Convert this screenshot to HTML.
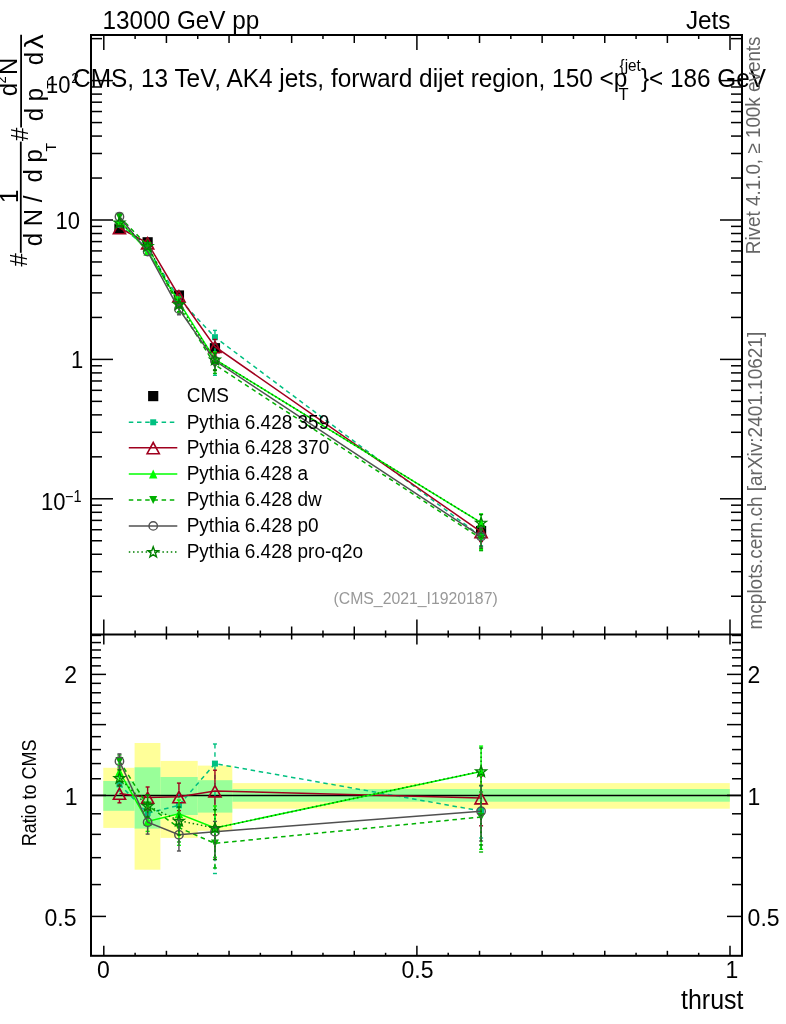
<!DOCTYPE html>
<html><head><meta charset="utf-8"><title>CMS thrust</title>
<style>html,body{margin:0;padding:0;background:#fff;} svg{display:block;will-change:transform;}</style></head>
<body>
<svg width="786" height="1024" viewBox="0 0 786 1024" font-family="Liberation Sans, Arial, Helvetica, sans-serif">
<rect width="786" height="1024" fill="#fff"/>
<rect x="103.3" y="767.8" width="31.30" height="60.10" fill="#ffff99"/>
<rect x="134.6" y="743.0" width="25.80" height="126.70" fill="#ffff99"/>
<rect x="160.4" y="760.9" width="37.30" height="77.00" fill="#ffff99"/>
<rect x="197.7" y="765.6" width="34.60" height="65.20" fill="#ffff99"/>
<rect x="232.3" y="783.1" width="497.50" height="25.60" fill="#ffff99"/>
<rect x="103.3" y="781.0" width="31.30" height="29.80" fill="#99ff99"/>
<rect x="134.6" y="767.3" width="25.80" height="61.30" fill="#99ff99"/>
<rect x="160.4" y="777.0" width="37.30" height="38.00" fill="#99ff99"/>
<rect x="197.7" y="780.2" width="34.60" height="32.40" fill="#99ff99"/>
<rect x="232.3" y="789.0" width="497.50" height="12.70" fill="#99ff99"/>
<line x1="91.0" y1="795.40" x2="742.0" y2="795.40" stroke="#000" stroke-width="1.5"/>
<polyline points="119.45,784.30 147.63,813.20 178.94,805.30 214.95,763.60 481.09,811.00" fill="none" stroke="#00c080" stroke-width="1.5" stroke-dasharray="4.5,3.7"/>
<line x1="119.45" y1="777.00" x2="119.45" y2="781.30" stroke="#00c080" stroke-width="1.4" stroke-dasharray="4.5,3.7"/><line x1="119.45" y1="787.30" x2="119.45" y2="791.00" stroke="#00c080" stroke-width="1.4" stroke-dasharray="4.5,3.7"/><line x1="117.45" y1="777.00" x2="121.45" y2="777.00" stroke="#00c080" stroke-width="1.4"/><line x1="117.45" y1="791.00" x2="121.45" y2="791.00" stroke="#00c080" stroke-width="1.4"/>
<line x1="147.63" y1="804.00" x2="147.63" y2="810.20" stroke="#00c080" stroke-width="1.4" stroke-dasharray="4.5,3.7"/><line x1="147.63" y1="816.20" x2="147.63" y2="822.00" stroke="#00c080" stroke-width="1.4" stroke-dasharray="4.5,3.7"/><line x1="145.63" y1="804.00" x2="149.63" y2="804.00" stroke="#00c080" stroke-width="1.4"/><line x1="145.63" y1="822.00" x2="149.63" y2="822.00" stroke="#00c080" stroke-width="1.4"/>
<line x1="178.94" y1="794.00" x2="178.94" y2="802.30" stroke="#00c080" stroke-width="1.4" stroke-dasharray="4.5,3.7"/><line x1="178.94" y1="808.30" x2="178.94" y2="817.00" stroke="#00c080" stroke-width="1.4" stroke-dasharray="4.5,3.7"/><line x1="176.94" y1="794.00" x2="180.94" y2="794.00" stroke="#00c080" stroke-width="1.4"/><line x1="176.94" y1="817.00" x2="180.94" y2="817.00" stroke="#00c080" stroke-width="1.4"/>
<line x1="214.95" y1="744.00" x2="214.95" y2="760.60" stroke="#00c080" stroke-width="1.4" stroke-dasharray="4.5,3.7"/><line x1="214.95" y1="766.60" x2="214.95" y2="873.50" stroke="#00c080" stroke-width="1.4" stroke-dasharray="4.5,3.7"/><line x1="212.95" y1="744.00" x2="216.95" y2="744.00" stroke="#00c080" stroke-width="1.4"/><line x1="212.95" y1="873.50" x2="216.95" y2="873.50" stroke="#00c080" stroke-width="1.4"/>
<line x1="481.09" y1="786.00" x2="481.09" y2="808.00" stroke="#00c080" stroke-width="1.4" stroke-dasharray="4.5,3.7"/><line x1="481.09" y1="814.00" x2="481.09" y2="838.00" stroke="#00c080" stroke-width="1.4" stroke-dasharray="4.5,3.7"/><line x1="479.09" y1="786.00" x2="483.09" y2="786.00" stroke="#00c080" stroke-width="1.4"/><line x1="479.09" y1="838.00" x2="483.09" y2="838.00" stroke="#00c080" stroke-width="1.4"/>
<rect x="116.45" y="781.30" width="6.00" height="6.00" fill="#00c080"/>
<rect x="144.63" y="810.20" width="6.00" height="6.00" fill="#00c080"/>
<rect x="175.94" y="802.30" width="6.00" height="6.00" fill="#00c080"/>
<rect x="211.95" y="760.60" width="6.00" height="6.00" fill="#00c080"/>
<rect x="478.09" y="808.00" width="6.00" height="6.00" fill="#00c080"/>
<polyline points="119.45,793.40 147.63,797.40 178.94,796.80 214.95,791.00 481.09,798.00" fill="none" stroke="#a0001e" stroke-width="1.5"/>
<line x1="119.45" y1="785.30" x2="119.45" y2="787.20" stroke="#a0001e" stroke-width="1.4"/><line x1="119.45" y1="799.60" x2="119.45" y2="802.80" stroke="#a0001e" stroke-width="1.4"/><line x1="117.45" y1="785.30" x2="121.45" y2="785.30" stroke="#a0001e" stroke-width="1.4"/><line x1="117.45" y1="802.80" x2="121.45" y2="802.80" stroke="#a0001e" stroke-width="1.4"/>
<line x1="147.63" y1="787.00" x2="147.63" y2="791.20" stroke="#a0001e" stroke-width="1.4"/><line x1="147.63" y1="803.60" x2="147.63" y2="808.00" stroke="#a0001e" stroke-width="1.4"/><line x1="145.63" y1="787.00" x2="149.63" y2="787.00" stroke="#a0001e" stroke-width="1.4"/><line x1="145.63" y1="808.00" x2="149.63" y2="808.00" stroke="#a0001e" stroke-width="1.4"/>
<line x1="178.94" y1="783.10" x2="178.94" y2="790.60" stroke="#a0001e" stroke-width="1.4"/><line x1="178.94" y1="803.00" x2="178.94" y2="810.60" stroke="#a0001e" stroke-width="1.4"/><line x1="176.94" y1="783.10" x2="180.94" y2="783.10" stroke="#a0001e" stroke-width="1.4"/><line x1="176.94" y1="810.60" x2="180.94" y2="810.60" stroke="#a0001e" stroke-width="1.4"/>
<line x1="214.95" y1="770.20" x2="214.95" y2="784.80" stroke="#a0001e" stroke-width="1.4"/><line x1="214.95" y1="797.20" x2="214.95" y2="814.90" stroke="#a0001e" stroke-width="1.4"/><line x1="212.95" y1="770.20" x2="216.95" y2="770.20" stroke="#a0001e" stroke-width="1.4"/><line x1="212.95" y1="814.90" x2="216.95" y2="814.90" stroke="#a0001e" stroke-width="1.4"/>
<line x1="481.09" y1="776.00" x2="481.09" y2="791.80" stroke="#a0001e" stroke-width="1.4"/><line x1="481.09" y1="804.20" x2="481.09" y2="825.80" stroke="#a0001e" stroke-width="1.4"/><line x1="479.09" y1="776.00" x2="483.09" y2="776.00" stroke="#a0001e" stroke-width="1.4"/><line x1="479.09" y1="825.80" x2="483.09" y2="825.80" stroke="#a0001e" stroke-width="1.4"/>
<path d="M119.45,788.10 L125.55,799.30 L113.36,799.30 Z" fill="none" stroke="#a0001e" stroke-width="1.6"/>
<path d="M147.63,792.10 L153.73,803.30 L141.53,803.30 Z" fill="none" stroke="#a0001e" stroke-width="1.6"/>
<path d="M178.94,791.50 L185.04,802.70 L172.84,802.70 Z" fill="none" stroke="#a0001e" stroke-width="1.6"/>
<path d="M214.95,785.70 L221.05,796.90 L208.85,796.90 Z" fill="none" stroke="#a0001e" stroke-width="1.6"/>
<path d="M481.09,792.70 L487.19,803.90 L474.99,803.90 Z" fill="none" stroke="#a0001e" stroke-width="1.6"/>
<polyline points="119.45,771.70 147.63,821.50 178.94,813.70 214.95,827.90 481.09,771.50" fill="none" stroke="#00ff00" stroke-width="1.5"/>
<line x1="119.45" y1="764.00" x2="119.45" y2="767.40" stroke="#00ff00" stroke-width="1.4"/><line x1="119.45" y1="776.00" x2="119.45" y2="780.00" stroke="#00ff00" stroke-width="1.4"/><line x1="117.45" y1="764.00" x2="121.45" y2="764.00" stroke="#00ff00" stroke-width="1.4"/><line x1="117.45" y1="780.00" x2="121.45" y2="780.00" stroke="#00ff00" stroke-width="1.4"/>
<line x1="147.63" y1="811.00" x2="147.63" y2="817.20" stroke="#00ff00" stroke-width="1.4"/><line x1="147.63" y1="825.80" x2="147.63" y2="831.40" stroke="#00ff00" stroke-width="1.4"/><line x1="145.63" y1="811.00" x2="149.63" y2="811.00" stroke="#00ff00" stroke-width="1.4"/><line x1="145.63" y1="831.40" x2="149.63" y2="831.40" stroke="#00ff00" stroke-width="1.4"/>
<line x1="178.94" y1="800.00" x2="178.94" y2="809.40" stroke="#00ff00" stroke-width="1.4"/><line x1="178.94" y1="818.00" x2="178.94" y2="845.30" stroke="#00ff00" stroke-width="1.4"/><line x1="176.94" y1="800.00" x2="180.94" y2="800.00" stroke="#00ff00" stroke-width="1.4"/><line x1="176.94" y1="845.30" x2="180.94" y2="845.30" stroke="#00ff00" stroke-width="1.4"/>
<line x1="214.95" y1="806.00" x2="214.95" y2="823.60" stroke="#00ff00" stroke-width="1.4"/><line x1="214.95" y1="832.20" x2="214.95" y2="857.30" stroke="#00ff00" stroke-width="1.4"/><line x1="212.95" y1="806.00" x2="216.95" y2="806.00" stroke="#00ff00" stroke-width="1.4"/><line x1="212.95" y1="857.30" x2="216.95" y2="857.30" stroke="#00ff00" stroke-width="1.4"/>
<line x1="481.09" y1="746.10" x2="481.09" y2="767.20" stroke="#00ff00" stroke-width="1.4"/><line x1="481.09" y1="775.80" x2="481.09" y2="849.30" stroke="#00ff00" stroke-width="1.4"/><line x1="479.09" y1="746.10" x2="483.09" y2="746.10" stroke="#00ff00" stroke-width="1.4"/><line x1="479.09" y1="849.30" x2="483.09" y2="849.30" stroke="#00ff00" stroke-width="1.4"/>
<path d="M119.45,767.30 L123.66,776.10 L115.25,776.10 Z" fill="#00ff00"/>
<path d="M147.63,817.10 L151.83,825.90 L143.43,825.90 Z" fill="#00ff00"/>
<path d="M178.94,809.30 L183.14,818.10 L174.74,818.10 Z" fill="#00ff00"/>
<path d="M214.95,823.50 L219.15,832.30 L210.75,832.30 Z" fill="#00ff00"/>
<path d="M481.09,767.10 L485.29,775.90 L476.89,775.90 Z" fill="#00ff00"/>
<polyline points="119.45,761.00 147.63,805.50 178.94,827.70 214.95,843.40 481.09,817.00" fill="none" stroke="#00b000" stroke-width="1.5" stroke-dasharray="4.5,3.7"/>
<line x1="119.45" y1="755.00" x2="119.45" y2="757.00" stroke="#00b000" stroke-width="1.4" stroke-dasharray="4.5,3.7"/><line x1="119.45" y1="765.00" x2="119.45" y2="767.00" stroke="#00b000" stroke-width="1.4" stroke-dasharray="4.5,3.7"/><line x1="117.45" y1="755.00" x2="121.45" y2="755.00" stroke="#00b000" stroke-width="1.4"/><line x1="117.45" y1="767.00" x2="121.45" y2="767.00" stroke="#00b000" stroke-width="1.4"/>
<line x1="147.63" y1="795.00" x2="147.63" y2="801.50" stroke="#00b000" stroke-width="1.4" stroke-dasharray="4.5,3.7"/><line x1="147.63" y1="809.50" x2="147.63" y2="817.00" stroke="#00b000" stroke-width="1.4" stroke-dasharray="4.5,3.7"/><line x1="145.63" y1="795.00" x2="149.63" y2="795.00" stroke="#00b000" stroke-width="1.4"/><line x1="145.63" y1="817.00" x2="149.63" y2="817.00" stroke="#00b000" stroke-width="1.4"/>
<line x1="178.94" y1="814.00" x2="178.94" y2="823.70" stroke="#00b000" stroke-width="1.4" stroke-dasharray="4.5,3.7"/><line x1="178.94" y1="831.70" x2="178.94" y2="842.00" stroke="#00b000" stroke-width="1.4" stroke-dasharray="4.5,3.7"/><line x1="176.94" y1="814.00" x2="180.94" y2="814.00" stroke="#00b000" stroke-width="1.4"/><line x1="176.94" y1="842.00" x2="180.94" y2="842.00" stroke="#00b000" stroke-width="1.4"/>
<line x1="214.95" y1="826.00" x2="214.95" y2="839.40" stroke="#00b000" stroke-width="1.4" stroke-dasharray="4.5,3.7"/><line x1="214.95" y1="847.40" x2="214.95" y2="868.00" stroke="#00b000" stroke-width="1.4" stroke-dasharray="4.5,3.7"/><line x1="212.95" y1="826.00" x2="216.95" y2="826.00" stroke="#00b000" stroke-width="1.4"/><line x1="212.95" y1="868.00" x2="216.95" y2="868.00" stroke="#00b000" stroke-width="1.4"/>
<line x1="481.09" y1="792.00" x2="481.09" y2="813.00" stroke="#00b000" stroke-width="1.4" stroke-dasharray="4.5,3.7"/><line x1="481.09" y1="821.00" x2="481.09" y2="852.00" stroke="#00b000" stroke-width="1.4" stroke-dasharray="4.5,3.7"/><line x1="479.09" y1="792.00" x2="483.09" y2="792.00" stroke="#00b000" stroke-width="1.4"/><line x1="479.09" y1="852.00" x2="483.09" y2="852.00" stroke="#00b000" stroke-width="1.4"/>
<path d="M119.45,764.90 L123.45,757.10 L115.45,757.10 Z" fill="#00b000"/>
<path d="M147.63,809.40 L151.63,801.60 L143.63,801.60 Z" fill="#00b000"/>
<path d="M178.94,831.60 L182.94,823.80 L174.94,823.80 Z" fill="#00b000"/>
<path d="M214.95,847.30 L218.95,839.50 L210.95,839.50 Z" fill="#00b000"/>
<path d="M481.09,820.90 L485.09,813.10 L477.09,813.10 Z" fill="#00b000"/>
<polyline points="119.45,761.20 147.63,822.20 178.94,834.80 214.95,831.70 481.09,811.20" fill="none" stroke="#505050" stroke-width="1.5"/>
<line x1="119.45" y1="753.90" x2="119.45" y2="756.60" stroke="#505050" stroke-width="1.4"/><line x1="119.45" y1="765.80" x2="119.45" y2="769.10" stroke="#505050" stroke-width="1.4"/><line x1="117.45" y1="753.90" x2="121.45" y2="753.90" stroke="#505050" stroke-width="1.4"/><line x1="117.45" y1="769.10" x2="121.45" y2="769.10" stroke="#505050" stroke-width="1.4"/>
<line x1="147.63" y1="810.00" x2="147.63" y2="817.60" stroke="#505050" stroke-width="1.4"/><line x1="147.63" y1="826.80" x2="147.63" y2="834.10" stroke="#505050" stroke-width="1.4"/><line x1="145.63" y1="810.00" x2="149.63" y2="810.00" stroke="#505050" stroke-width="1.4"/><line x1="145.63" y1="834.10" x2="149.63" y2="834.10" stroke="#505050" stroke-width="1.4"/>
<line x1="178.94" y1="820.00" x2="178.94" y2="830.20" stroke="#505050" stroke-width="1.4"/><line x1="178.94" y1="839.40" x2="178.94" y2="851.00" stroke="#505050" stroke-width="1.4"/><line x1="176.94" y1="820.00" x2="180.94" y2="820.00" stroke="#505050" stroke-width="1.4"/><line x1="176.94" y1="851.00" x2="180.94" y2="851.00" stroke="#505050" stroke-width="1.4"/>
<line x1="214.95" y1="821.40" x2="214.95" y2="827.10" stroke="#505050" stroke-width="1.4"/><line x1="214.95" y1="836.30" x2="214.95" y2="859.50" stroke="#505050" stroke-width="1.4"/><line x1="212.95" y1="821.40" x2="216.95" y2="821.40" stroke="#505050" stroke-width="1.4"/><line x1="212.95" y1="859.50" x2="216.95" y2="859.50" stroke="#505050" stroke-width="1.4"/>
<line x1="481.09" y1="785.40" x2="481.09" y2="806.60" stroke="#505050" stroke-width="1.4"/><line x1="481.09" y1="815.80" x2="481.09" y2="841.00" stroke="#505050" stroke-width="1.4"/><line x1="479.09" y1="785.40" x2="483.09" y2="785.40" stroke="#505050" stroke-width="1.4"/><line x1="479.09" y1="841.00" x2="483.09" y2="841.00" stroke="#505050" stroke-width="1.4"/>
<circle cx="119.45" cy="761.20" r="4.20" fill="none" stroke="#505050" stroke-width="1.4"/>
<circle cx="147.63" cy="822.20" r="4.20" fill="none" stroke="#505050" stroke-width="1.4"/>
<circle cx="178.94" cy="834.80" r="4.20" fill="none" stroke="#505050" stroke-width="1.4"/>
<circle cx="214.95" cy="831.70" r="4.20" fill="none" stroke="#505050" stroke-width="1.4"/>
<circle cx="481.09" cy="811.20" r="4.20" fill="none" stroke="#505050" stroke-width="1.4"/>
<polyline points="119.45,778.00 147.63,805.80 178.94,820.70 214.95,828.00 481.09,771.30" fill="none" stroke="#008000" stroke-width="1.5" stroke-dasharray="1.5,2.7"/>
<line x1="119.45" y1="770.00" x2="119.45" y2="772.50" stroke="#008000" stroke-width="1.4" stroke-dasharray="1.5,2.7"/><line x1="119.45" y1="783.50" x2="119.45" y2="786.00" stroke="#008000" stroke-width="1.4" stroke-dasharray="1.5,2.7"/><line x1="117.45" y1="770.00" x2="121.45" y2="770.00" stroke="#008000" stroke-width="1.4"/><line x1="117.45" y1="786.00" x2="121.45" y2="786.00" stroke="#008000" stroke-width="1.4"/>
<line x1="147.63" y1="795.00" x2="147.63" y2="800.30" stroke="#008000" stroke-width="1.4" stroke-dasharray="1.5,2.7"/><line x1="147.63" y1="811.30" x2="147.63" y2="817.00" stroke="#008000" stroke-width="1.4" stroke-dasharray="1.5,2.7"/><line x1="145.63" y1="795.00" x2="149.63" y2="795.00" stroke="#008000" stroke-width="1.4"/><line x1="145.63" y1="817.00" x2="149.63" y2="817.00" stroke="#008000" stroke-width="1.4"/>
<line x1="178.94" y1="807.00" x2="178.94" y2="815.20" stroke="#008000" stroke-width="1.4" stroke-dasharray="1.5,2.7"/><line x1="178.94" y1="826.20" x2="178.94" y2="835.00" stroke="#008000" stroke-width="1.4" stroke-dasharray="1.5,2.7"/><line x1="176.94" y1="807.00" x2="180.94" y2="807.00" stroke="#008000" stroke-width="1.4"/><line x1="176.94" y1="835.00" x2="180.94" y2="835.00" stroke="#008000" stroke-width="1.4"/>
<line x1="214.95" y1="809.70" x2="214.95" y2="822.50" stroke="#008000" stroke-width="1.4" stroke-dasharray="1.5,2.7"/><line x1="214.95" y1="833.50" x2="214.95" y2="859.50" stroke="#008000" stroke-width="1.4" stroke-dasharray="1.5,2.7"/><line x1="212.95" y1="809.70" x2="216.95" y2="809.70" stroke="#008000" stroke-width="1.4"/><line x1="212.95" y1="859.50" x2="216.95" y2="859.50" stroke="#008000" stroke-width="1.4"/>
<line x1="481.09" y1="748.00" x2="481.09" y2="765.80" stroke="#008000" stroke-width="1.4" stroke-dasharray="1.5,2.7"/><line x1="481.09" y1="776.80" x2="481.09" y2="845.00" stroke="#008000" stroke-width="1.4" stroke-dasharray="1.5,2.7"/><line x1="479.09" y1="748.00" x2="483.09" y2="748.00" stroke="#008000" stroke-width="1.4"/><line x1="479.09" y1="845.00" x2="483.09" y2="845.00" stroke="#008000" stroke-width="1.4"/>
<polygon points="119.45,772.80 120.81,776.54 124.78,776.67 121.64,779.11 122.75,782.93 119.45,780.70 116.16,782.93 117.27,779.11 114.13,776.67 118.10,776.54" fill="none" stroke="#008000" stroke-width="1.4" stroke-linejoin="miter"/>
<polygon points="147.63,800.60 148.99,804.34 152.96,804.47 149.82,806.91 150.93,810.73 147.63,808.50 144.34,810.73 145.45,806.91 142.31,804.47 146.28,804.34" fill="none" stroke="#008000" stroke-width="1.4" stroke-linejoin="miter"/>
<polygon points="178.94,815.50 180.30,819.24 184.27,819.37 181.13,821.81 182.24,825.63 178.94,823.40 175.65,825.63 176.76,821.81 173.62,819.37 177.59,819.24" fill="none" stroke="#008000" stroke-width="1.4" stroke-linejoin="miter"/>
<polygon points="214.95,822.80 216.30,826.54 220.28,826.67 217.14,829.11 218.24,832.93 214.95,830.70 211.66,832.93 212.76,829.11 209.62,826.67 213.60,826.54" fill="none" stroke="#008000" stroke-width="1.4" stroke-linejoin="miter"/>
<polygon points="481.09,766.10 482.44,769.84 486.41,769.97 483.27,772.41 484.38,776.23 481.09,774.00 477.79,776.23 478.90,772.41 475.76,769.97 479.73,769.84" fill="none" stroke="#008000" stroke-width="1.4" stroke-linejoin="miter"/>
<rect x="114.36" y="223.50" width="10.20" height="10.20" fill="#000"/>
<rect x="142.53" y="237.20" width="10.20" height="10.20" fill="#000"/>
<rect x="173.84" y="290.40" width="10.20" height="10.20" fill="#000"/>
<rect x="209.85" y="343.10" width="10.20" height="10.20" fill="#000"/>
<rect x="475.99" y="525.90" width="10.20" height="10.20" fill="#000"/>
<polyline points="119.45,224.75 147.63,248.47 178.94,298.93 214.95,337.17 481.09,536.41" fill="none" stroke="#00c080" stroke-width="1.5" stroke-dasharray="4.5,3.7"/>
<line x1="147.63" y1="245.28" x2="147.63" y2="245.47" stroke="#00c080" stroke-width="1.4" stroke-dasharray="4.5,3.7"/><line x1="147.63" y1="251.47" x2="147.63" y2="251.52" stroke="#00c080" stroke-width="1.4" stroke-dasharray="4.5,3.7"/><line x1="145.63" y1="245.28" x2="149.63" y2="245.28" stroke="#00c080" stroke-width="1.4"/><line x1="145.63" y1="251.52" x2="149.63" y2="251.52" stroke="#00c080" stroke-width="1.4"/>
<line x1="178.94" y1="295.01" x2="178.94" y2="295.93" stroke="#00c080" stroke-width="1.4" stroke-dasharray="4.5,3.7"/><line x1="178.94" y1="301.93" x2="178.94" y2="302.99" stroke="#00c080" stroke-width="1.4" stroke-dasharray="4.5,3.7"/><line x1="176.94" y1="295.01" x2="180.94" y2="295.01" stroke="#00c080" stroke-width="1.4"/><line x1="176.94" y1="302.99" x2="180.94" y2="302.99" stroke="#00c080" stroke-width="1.4"/>
<line x1="214.95" y1="330.38" x2="214.95" y2="334.17" stroke="#00c080" stroke-width="1.4" stroke-dasharray="4.5,3.7"/><line x1="214.95" y1="340.17" x2="214.95" y2="375.28" stroke="#00c080" stroke-width="1.4" stroke-dasharray="4.5,3.7"/><line x1="212.95" y1="330.38" x2="216.95" y2="330.38" stroke="#00c080" stroke-width="1.4"/><line x1="212.95" y1="375.28" x2="216.95" y2="375.28" stroke="#00c080" stroke-width="1.4"/>
<line x1="481.09" y1="527.74" x2="481.09" y2="533.41" stroke="#00c080" stroke-width="1.4" stroke-dasharray="4.5,3.7"/><line x1="481.09" y1="539.41" x2="481.09" y2="545.77" stroke="#00c080" stroke-width="1.4" stroke-dasharray="4.5,3.7"/><line x1="479.09" y1="527.74" x2="483.09" y2="527.74" stroke="#00c080" stroke-width="1.4"/><line x1="479.09" y1="545.77" x2="483.09" y2="545.77" stroke="#00c080" stroke-width="1.4"/>
<rect x="116.45" y="221.75" width="6.00" height="6.00" fill="#00c080"/>
<rect x="144.63" y="245.47" width="6.00" height="6.00" fill="#00c080"/>
<rect x="175.94" y="295.93" width="6.00" height="6.00" fill="#00c080"/>
<rect x="211.95" y="334.17" width="6.00" height="6.00" fill="#00c080"/>
<rect x="478.09" y="533.41" width="6.00" height="6.00" fill="#00c080"/>
<polyline points="119.45,227.91 147.63,242.99 178.94,295.99 214.95,346.67 481.09,531.90" fill="none" stroke="#a0001e" stroke-width="1.5"/>
<line x1="214.95" y1="339.46" x2="214.95" y2="340.47" stroke="#a0001e" stroke-width="1.4"/><line x1="214.95" y1="352.87" x2="214.95" y2="354.96" stroke="#a0001e" stroke-width="1.4"/><line x1="212.95" y1="339.46" x2="216.95" y2="339.46" stroke="#a0001e" stroke-width="1.4"/><line x1="212.95" y1="354.96" x2="216.95" y2="354.96" stroke="#a0001e" stroke-width="1.4"/>
<line x1="481.09" y1="524.27" x2="481.09" y2="525.70" stroke="#a0001e" stroke-width="1.4"/><line x1="481.09" y1="538.10" x2="481.09" y2="541.54" stroke="#a0001e" stroke-width="1.4"/><line x1="479.09" y1="524.27" x2="483.09" y2="524.27" stroke="#a0001e" stroke-width="1.4"/><line x1="479.09" y1="541.54" x2="483.09" y2="541.54" stroke="#a0001e" stroke-width="1.4"/>
<path d="M119.45,222.61 L125.55,233.81 L113.36,233.81 Z" fill="none" stroke="#a0001e" stroke-width="1.6"/>
<path d="M147.63,237.69 L153.73,248.89 L141.53,248.89 Z" fill="none" stroke="#a0001e" stroke-width="1.6"/>
<path d="M178.94,290.69 L185.04,301.89 L172.84,301.89 Z" fill="none" stroke="#a0001e" stroke-width="1.6"/>
<path d="M214.95,341.37 L221.05,352.57 L208.85,352.57 Z" fill="none" stroke="#a0001e" stroke-width="1.6"/>
<path d="M481.09,526.60 L487.19,537.80 L474.99,537.80 Z" fill="none" stroke="#a0001e" stroke-width="1.6"/>
<polyline points="119.45,220.38 147.63,251.35 178.94,301.85 214.95,359.47 481.09,522.71" fill="none" stroke="#00ff00" stroke-width="1.5"/>
<line x1="178.94" y1="297.10" x2="178.94" y2="297.55" stroke="#00ff00" stroke-width="1.4"/><line x1="178.94" y1="306.15" x2="178.94" y2="312.80" stroke="#00ff00" stroke-width="1.4"/><line x1="176.94" y1="297.10" x2="180.94" y2="297.10" stroke="#00ff00" stroke-width="1.4"/><line x1="176.94" y1="312.80" x2="180.94" y2="312.80" stroke="#00ff00" stroke-width="1.4"/>
<line x1="214.95" y1="351.88" x2="214.95" y2="355.17" stroke="#00ff00" stroke-width="1.4"/><line x1="214.95" y1="363.77" x2="214.95" y2="369.66" stroke="#00ff00" stroke-width="1.4"/><line x1="212.95" y1="351.88" x2="216.95" y2="351.88" stroke="#00ff00" stroke-width="1.4"/><line x1="212.95" y1="369.66" x2="216.95" y2="369.66" stroke="#00ff00" stroke-width="1.4"/>
<line x1="481.09" y1="513.90" x2="481.09" y2="518.41" stroke="#00ff00" stroke-width="1.4"/><line x1="481.09" y1="527.01" x2="481.09" y2="549.69" stroke="#00ff00" stroke-width="1.4"/><line x1="479.09" y1="513.90" x2="483.09" y2="513.90" stroke="#00ff00" stroke-width="1.4"/><line x1="479.09" y1="549.69" x2="483.09" y2="549.69" stroke="#00ff00" stroke-width="1.4"/>
<path d="M119.45,215.98 L123.66,224.78 L115.25,224.78 Z" fill="#00ff00"/>
<path d="M147.63,246.95 L151.83,255.75 L143.43,255.75 Z" fill="#00ff00"/>
<path d="M178.94,297.45 L183.14,306.25 L174.74,306.25 Z" fill="#00ff00"/>
<path d="M214.95,355.07 L219.15,363.87 L210.75,363.87 Z" fill="#00ff00"/>
<path d="M481.09,518.31 L485.29,527.11 L476.89,527.11 Z" fill="#00ff00"/>
<polyline points="119.45,216.67 147.63,245.80 178.94,306.70 214.95,364.84 481.09,538.49" fill="none" stroke="#00b000" stroke-width="1.5" stroke-dasharray="4.5,3.7"/>
<line x1="178.94" y1="301.95" x2="178.94" y2="302.70" stroke="#00b000" stroke-width="1.4" stroke-dasharray="4.5,3.7"/><line x1="178.94" y1="310.70" x2="178.94" y2="311.66" stroke="#00b000" stroke-width="1.4" stroke-dasharray="4.5,3.7"/><line x1="176.94" y1="301.95" x2="180.94" y2="301.95" stroke="#00b000" stroke-width="1.4"/><line x1="176.94" y1="311.66" x2="180.94" y2="311.66" stroke="#00b000" stroke-width="1.4"/>
<line x1="214.95" y1="358.81" x2="214.95" y2="360.84" stroke="#00b000" stroke-width="1.4" stroke-dasharray="4.5,3.7"/><line x1="214.95" y1="368.84" x2="214.95" y2="373.38" stroke="#00b000" stroke-width="1.4" stroke-dasharray="4.5,3.7"/><line x1="212.95" y1="358.81" x2="216.95" y2="358.81" stroke="#00b000" stroke-width="1.4"/><line x1="212.95" y1="373.38" x2="216.95" y2="373.38" stroke="#00b000" stroke-width="1.4"/>
<line x1="481.09" y1="529.82" x2="481.09" y2="534.49" stroke="#00b000" stroke-width="1.4" stroke-dasharray="4.5,3.7"/><line x1="481.09" y1="542.49" x2="481.09" y2="550.63" stroke="#00b000" stroke-width="1.4" stroke-dasharray="4.5,3.7"/><line x1="479.09" y1="529.82" x2="483.09" y2="529.82" stroke="#00b000" stroke-width="1.4"/><line x1="479.09" y1="550.63" x2="483.09" y2="550.63" stroke="#00b000" stroke-width="1.4"/>
<path d="M119.45,220.57 L123.45,212.77 L115.45,212.77 Z" fill="#00b000"/>
<path d="M147.63,249.70 L151.63,241.90 L143.63,241.90 Z" fill="#00b000"/>
<path d="M178.94,310.60 L182.94,302.80 L174.94,302.80 Z" fill="#00b000"/>
<path d="M214.95,368.74 L218.95,360.94 L210.95,360.94 Z" fill="#00b000"/>
<path d="M481.09,542.39 L485.09,534.59 L477.09,534.59 Z" fill="#00b000"/>
<polyline points="119.45,216.74 147.63,251.59 178.94,309.16 214.95,360.79 481.09,536.48" fill="none" stroke="#505050" stroke-width="1.5"/>
<line x1="178.94" y1="304.03" x2="178.94" y2="304.56" stroke="#505050" stroke-width="1.4"/><line x1="178.94" y1="313.76" x2="178.94" y2="314.78" stroke="#505050" stroke-width="1.4"/><line x1="176.94" y1="304.03" x2="180.94" y2="304.03" stroke="#505050" stroke-width="1.4"/><line x1="176.94" y1="314.78" x2="180.94" y2="314.78" stroke="#505050" stroke-width="1.4"/>
<line x1="214.95" y1="365.39" x2="214.95" y2="370.43" stroke="#505050" stroke-width="1.4"/><line x1="212.95" y1="357.22" x2="216.95" y2="357.22" stroke="#505050" stroke-width="1.4"/><line x1="212.95" y1="370.43" x2="216.95" y2="370.43" stroke="#505050" stroke-width="1.4"/>
<line x1="481.09" y1="527.53" x2="481.09" y2="531.88" stroke="#505050" stroke-width="1.4"/><line x1="481.09" y1="541.08" x2="481.09" y2="546.81" stroke="#505050" stroke-width="1.4"/><line x1="479.09" y1="527.53" x2="483.09" y2="527.53" stroke="#505050" stroke-width="1.4"/><line x1="479.09" y1="546.81" x2="483.09" y2="546.81" stroke="#505050" stroke-width="1.4"/>
<circle cx="119.45" cy="216.74" r="4.20" fill="none" stroke="#505050" stroke-width="1.4"/>
<circle cx="147.63" cy="251.59" r="4.20" fill="none" stroke="#505050" stroke-width="1.4"/>
<circle cx="178.94" cy="309.16" r="4.20" fill="none" stroke="#505050" stroke-width="1.4"/>
<circle cx="214.95" cy="360.79" r="4.20" fill="none" stroke="#505050" stroke-width="1.4"/>
<circle cx="481.09" cy="536.48" r="4.20" fill="none" stroke="#505050" stroke-width="1.4"/>
<polyline points="119.45,222.57 147.63,245.91 178.94,304.27 214.95,359.50 481.09,522.64" fill="none" stroke="#008000" stroke-width="1.5" stroke-dasharray="1.5,2.7"/>
<line x1="214.95" y1="353.16" x2="214.95" y2="354.00" stroke="#008000" stroke-width="1.4" stroke-dasharray="1.5,2.7"/><line x1="214.95" y1="365.00" x2="214.95" y2="370.43" stroke="#008000" stroke-width="1.4" stroke-dasharray="1.5,2.7"/><line x1="212.95" y1="353.16" x2="216.95" y2="353.16" stroke="#008000" stroke-width="1.4"/><line x1="212.95" y1="370.43" x2="216.95" y2="370.43" stroke="#008000" stroke-width="1.4"/>
<line x1="481.09" y1="514.56" x2="481.09" y2="517.14" stroke="#008000" stroke-width="1.4" stroke-dasharray="1.5,2.7"/><line x1="481.09" y1="528.14" x2="481.09" y2="548.20" stroke="#008000" stroke-width="1.4" stroke-dasharray="1.5,2.7"/><line x1="479.09" y1="514.56" x2="483.09" y2="514.56" stroke="#008000" stroke-width="1.4"/><line x1="479.09" y1="548.20" x2="483.09" y2="548.20" stroke="#008000" stroke-width="1.4"/>
<polygon points="119.45,217.37 120.81,221.11 124.78,221.24 121.64,223.68 122.75,227.50 119.45,225.27 116.16,227.50 117.27,223.68 114.13,221.24 118.10,221.11" fill="none" stroke="#008000" stroke-width="1.4" stroke-linejoin="miter"/>
<polygon points="147.63,240.71 148.99,244.45 152.96,244.58 149.82,247.02 150.93,250.84 147.63,248.61 144.34,250.84 145.45,247.02 142.31,244.58 146.28,244.45" fill="none" stroke="#008000" stroke-width="1.4" stroke-linejoin="miter"/>
<polygon points="178.94,299.07 180.30,302.81 184.27,302.94 181.13,305.38 182.24,309.20 178.94,306.97 175.65,309.20 176.76,305.38 173.62,302.94 177.59,302.81" fill="none" stroke="#008000" stroke-width="1.4" stroke-linejoin="miter"/>
<polygon points="214.95,354.30 216.30,358.04 220.28,358.17 217.14,360.62 218.24,364.44 214.95,362.20 211.66,364.44 212.76,360.62 209.62,358.17 213.60,358.04" fill="none" stroke="#008000" stroke-width="1.4" stroke-linejoin="miter"/>
<polygon points="481.09,517.44 482.44,521.18 486.41,521.31 483.27,523.75 484.38,527.57 481.09,525.34 477.79,527.57 478.90,523.75 475.76,521.31 479.73,521.18" fill="none" stroke="#008000" stroke-width="1.4" stroke-linejoin="miter"/>
<rect x="148.10" y="391.00" width="10.20" height="10.20" fill="#000"/>
<line x1="128.8" y1="422.3" x2="177.3" y2="422.3" stroke="#00c080" stroke-width="1.5" stroke-dasharray="4.5,3.7"/>
<rect x="150.20" y="419.30" width="6.00" height="6.00" fill="#00c080"/>
<line x1="128.8" y1="447.8" x2="177.3" y2="447.8" stroke="#a0001e" stroke-width="1.5"/>
<path d="M153.20,442.50 L159.30,453.70 L147.10,453.70 Z" fill="none" stroke="#a0001e" stroke-width="1.6"/>
<line x1="128.8" y1="474.0" x2="177.3" y2="474.0" stroke="#00ff00" stroke-width="1.5"/>
<path d="M153.20,469.60 L157.40,478.40 L149.00,478.40 Z" fill="#00ff00"/>
<line x1="128.8" y1="500.0" x2="177.3" y2="500.0" stroke="#00b000" stroke-width="1.5" stroke-dasharray="4.5,3.7"/>
<path d="M153.20,503.90 L157.20,496.10 L149.20,496.10 Z" fill="#00b000"/>
<line x1="128.8" y1="525.9" x2="177.3" y2="525.9" stroke="#505050" stroke-width="1.5"/>
<circle cx="153.20" cy="525.90" r="4.20" fill="none" stroke="#505050" stroke-width="1.4"/>
<line x1="128.8" y1="552.0" x2="177.3" y2="552.0" stroke="#008000" stroke-width="1.5" stroke-dasharray="1.5,2.7"/>
<polygon points="153.20,546.80 154.55,550.54 158.53,550.67 155.39,553.11 156.49,556.93 153.20,554.70 149.91,556.93 151.01,553.11 147.87,550.67 151.85,550.54" fill="none" stroke="#008000" stroke-width="1.4" stroke-linejoin="miter"/>
<line x1="103.80" y1="35.00" x2="103.80" y2="50.00" stroke="#000" stroke-width="1.5"/>
<line x1="103.80" y1="634.50" x2="103.80" y2="619.50" stroke="#000" stroke-width="1.5"/>
<line x1="103.80" y1="634.50" x2="103.80" y2="644.50" stroke="#000" stroke-width="1.5"/>
<line x1="103.80" y1="955.80" x2="103.80" y2="945.80" stroke="#000" stroke-width="1.5"/>
<line x1="135.11" y1="35.00" x2="135.11" y2="39.00" stroke="#000" stroke-width="1.5"/>
<line x1="135.11" y1="634.50" x2="135.11" y2="630.50" stroke="#000" stroke-width="1.5"/>
<line x1="135.11" y1="634.50" x2="135.11" y2="637.50" stroke="#000" stroke-width="1.5"/>
<line x1="135.11" y1="955.80" x2="135.11" y2="952.80" stroke="#000" stroke-width="1.5"/>
<line x1="166.42" y1="35.00" x2="166.42" y2="43.00" stroke="#000" stroke-width="1.5"/>
<line x1="166.42" y1="634.50" x2="166.42" y2="626.50" stroke="#000" stroke-width="1.5"/>
<line x1="166.42" y1="634.50" x2="166.42" y2="639.50" stroke="#000" stroke-width="1.5"/>
<line x1="166.42" y1="955.80" x2="166.42" y2="950.80" stroke="#000" stroke-width="1.5"/>
<line x1="197.73" y1="35.00" x2="197.73" y2="39.00" stroke="#000" stroke-width="1.5"/>
<line x1="197.73" y1="634.50" x2="197.73" y2="630.50" stroke="#000" stroke-width="1.5"/>
<line x1="197.73" y1="634.50" x2="197.73" y2="637.50" stroke="#000" stroke-width="1.5"/>
<line x1="197.73" y1="955.80" x2="197.73" y2="952.80" stroke="#000" stroke-width="1.5"/>
<line x1="229.04" y1="35.00" x2="229.04" y2="43.00" stroke="#000" stroke-width="1.5"/>
<line x1="229.04" y1="634.50" x2="229.04" y2="626.50" stroke="#000" stroke-width="1.5"/>
<line x1="229.04" y1="634.50" x2="229.04" y2="639.50" stroke="#000" stroke-width="1.5"/>
<line x1="229.04" y1="955.80" x2="229.04" y2="950.80" stroke="#000" stroke-width="1.5"/>
<line x1="260.35" y1="35.00" x2="260.35" y2="39.00" stroke="#000" stroke-width="1.5"/>
<line x1="260.35" y1="634.50" x2="260.35" y2="630.50" stroke="#000" stroke-width="1.5"/>
<line x1="260.35" y1="634.50" x2="260.35" y2="637.50" stroke="#000" stroke-width="1.5"/>
<line x1="260.35" y1="955.80" x2="260.35" y2="952.80" stroke="#000" stroke-width="1.5"/>
<line x1="291.66" y1="35.00" x2="291.66" y2="43.00" stroke="#000" stroke-width="1.5"/>
<line x1="291.66" y1="634.50" x2="291.66" y2="626.50" stroke="#000" stroke-width="1.5"/>
<line x1="291.66" y1="634.50" x2="291.66" y2="639.50" stroke="#000" stroke-width="1.5"/>
<line x1="291.66" y1="955.80" x2="291.66" y2="950.80" stroke="#000" stroke-width="1.5"/>
<line x1="322.97" y1="35.00" x2="322.97" y2="39.00" stroke="#000" stroke-width="1.5"/>
<line x1="322.97" y1="634.50" x2="322.97" y2="630.50" stroke="#000" stroke-width="1.5"/>
<line x1="322.97" y1="634.50" x2="322.97" y2="637.50" stroke="#000" stroke-width="1.5"/>
<line x1="322.97" y1="955.80" x2="322.97" y2="952.80" stroke="#000" stroke-width="1.5"/>
<line x1="354.28" y1="35.00" x2="354.28" y2="43.00" stroke="#000" stroke-width="1.5"/>
<line x1="354.28" y1="634.50" x2="354.28" y2="626.50" stroke="#000" stroke-width="1.5"/>
<line x1="354.28" y1="634.50" x2="354.28" y2="639.50" stroke="#000" stroke-width="1.5"/>
<line x1="354.28" y1="955.80" x2="354.28" y2="950.80" stroke="#000" stroke-width="1.5"/>
<line x1="385.59" y1="35.00" x2="385.59" y2="39.00" stroke="#000" stroke-width="1.5"/>
<line x1="385.59" y1="634.50" x2="385.59" y2="630.50" stroke="#000" stroke-width="1.5"/>
<line x1="385.59" y1="634.50" x2="385.59" y2="637.50" stroke="#000" stroke-width="1.5"/>
<line x1="385.59" y1="955.80" x2="385.59" y2="952.80" stroke="#000" stroke-width="1.5"/>
<line x1="416.90" y1="35.00" x2="416.90" y2="50.00" stroke="#000" stroke-width="1.5"/>
<line x1="416.90" y1="634.50" x2="416.90" y2="619.50" stroke="#000" stroke-width="1.5"/>
<line x1="416.90" y1="634.50" x2="416.90" y2="644.50" stroke="#000" stroke-width="1.5"/>
<line x1="416.90" y1="955.80" x2="416.90" y2="945.80" stroke="#000" stroke-width="1.5"/>
<line x1="448.21" y1="35.00" x2="448.21" y2="39.00" stroke="#000" stroke-width="1.5"/>
<line x1="448.21" y1="634.50" x2="448.21" y2="630.50" stroke="#000" stroke-width="1.5"/>
<line x1="448.21" y1="634.50" x2="448.21" y2="637.50" stroke="#000" stroke-width="1.5"/>
<line x1="448.21" y1="955.80" x2="448.21" y2="952.80" stroke="#000" stroke-width="1.5"/>
<line x1="479.52" y1="35.00" x2="479.52" y2="43.00" stroke="#000" stroke-width="1.5"/>
<line x1="479.52" y1="634.50" x2="479.52" y2="626.50" stroke="#000" stroke-width="1.5"/>
<line x1="479.52" y1="634.50" x2="479.52" y2="639.50" stroke="#000" stroke-width="1.5"/>
<line x1="479.52" y1="955.80" x2="479.52" y2="950.80" stroke="#000" stroke-width="1.5"/>
<line x1="510.83" y1="35.00" x2="510.83" y2="39.00" stroke="#000" stroke-width="1.5"/>
<line x1="510.83" y1="634.50" x2="510.83" y2="630.50" stroke="#000" stroke-width="1.5"/>
<line x1="510.83" y1="634.50" x2="510.83" y2="637.50" stroke="#000" stroke-width="1.5"/>
<line x1="510.83" y1="955.80" x2="510.83" y2="952.80" stroke="#000" stroke-width="1.5"/>
<line x1="542.14" y1="35.00" x2="542.14" y2="43.00" stroke="#000" stroke-width="1.5"/>
<line x1="542.14" y1="634.50" x2="542.14" y2="626.50" stroke="#000" stroke-width="1.5"/>
<line x1="542.14" y1="634.50" x2="542.14" y2="639.50" stroke="#000" stroke-width="1.5"/>
<line x1="542.14" y1="955.80" x2="542.14" y2="950.80" stroke="#000" stroke-width="1.5"/>
<line x1="573.45" y1="35.00" x2="573.45" y2="39.00" stroke="#000" stroke-width="1.5"/>
<line x1="573.45" y1="634.50" x2="573.45" y2="630.50" stroke="#000" stroke-width="1.5"/>
<line x1="573.45" y1="634.50" x2="573.45" y2="637.50" stroke="#000" stroke-width="1.5"/>
<line x1="573.45" y1="955.80" x2="573.45" y2="952.80" stroke="#000" stroke-width="1.5"/>
<line x1="604.76" y1="35.00" x2="604.76" y2="43.00" stroke="#000" stroke-width="1.5"/>
<line x1="604.76" y1="634.50" x2="604.76" y2="626.50" stroke="#000" stroke-width="1.5"/>
<line x1="604.76" y1="634.50" x2="604.76" y2="639.50" stroke="#000" stroke-width="1.5"/>
<line x1="604.76" y1="955.80" x2="604.76" y2="950.80" stroke="#000" stroke-width="1.5"/>
<line x1="636.07" y1="35.00" x2="636.07" y2="39.00" stroke="#000" stroke-width="1.5"/>
<line x1="636.07" y1="634.50" x2="636.07" y2="630.50" stroke="#000" stroke-width="1.5"/>
<line x1="636.07" y1="634.50" x2="636.07" y2="637.50" stroke="#000" stroke-width="1.5"/>
<line x1="636.07" y1="955.80" x2="636.07" y2="952.80" stroke="#000" stroke-width="1.5"/>
<line x1="667.38" y1="35.00" x2="667.38" y2="43.00" stroke="#000" stroke-width="1.5"/>
<line x1="667.38" y1="634.50" x2="667.38" y2="626.50" stroke="#000" stroke-width="1.5"/>
<line x1="667.38" y1="634.50" x2="667.38" y2="639.50" stroke="#000" stroke-width="1.5"/>
<line x1="667.38" y1="955.80" x2="667.38" y2="950.80" stroke="#000" stroke-width="1.5"/>
<line x1="698.69" y1="35.00" x2="698.69" y2="39.00" stroke="#000" stroke-width="1.5"/>
<line x1="698.69" y1="634.50" x2="698.69" y2="630.50" stroke="#000" stroke-width="1.5"/>
<line x1="698.69" y1="634.50" x2="698.69" y2="637.50" stroke="#000" stroke-width="1.5"/>
<line x1="698.69" y1="955.80" x2="698.69" y2="952.80" stroke="#000" stroke-width="1.5"/>
<line x1="730.00" y1="35.00" x2="730.00" y2="50.00" stroke="#000" stroke-width="1.5"/>
<line x1="730.00" y1="634.50" x2="730.00" y2="619.50" stroke="#000" stroke-width="1.5"/>
<line x1="730.00" y1="634.50" x2="730.00" y2="644.50" stroke="#000" stroke-width="1.5"/>
<line x1="730.00" y1="955.80" x2="730.00" y2="945.80" stroke="#000" stroke-width="1.5"/>
<line x1="91.00" y1="596.24" x2="102.00" y2="596.24" stroke="#000" stroke-width="1.5"/>
<line x1="742.00" y1="596.24" x2="731.00" y2="596.24" stroke="#000" stroke-width="1.5"/>
<line x1="91.00" y1="571.69" x2="102.00" y2="571.69" stroke="#000" stroke-width="1.5"/>
<line x1="742.00" y1="571.69" x2="731.00" y2="571.69" stroke="#000" stroke-width="1.5"/>
<line x1="91.00" y1="554.27" x2="102.00" y2="554.27" stroke="#000" stroke-width="1.5"/>
<line x1="742.00" y1="554.27" x2="731.00" y2="554.27" stroke="#000" stroke-width="1.5"/>
<line x1="91.00" y1="540.76" x2="102.00" y2="540.76" stroke="#000" stroke-width="1.5"/>
<line x1="742.00" y1="540.76" x2="731.00" y2="540.76" stroke="#000" stroke-width="1.5"/>
<line x1="91.00" y1="529.73" x2="102.00" y2="529.73" stroke="#000" stroke-width="1.5"/>
<line x1="742.00" y1="529.73" x2="731.00" y2="529.73" stroke="#000" stroke-width="1.5"/>
<line x1="91.00" y1="520.39" x2="102.00" y2="520.39" stroke="#000" stroke-width="1.5"/>
<line x1="742.00" y1="520.39" x2="731.00" y2="520.39" stroke="#000" stroke-width="1.5"/>
<line x1="91.00" y1="512.31" x2="102.00" y2="512.31" stroke="#000" stroke-width="1.5"/>
<line x1="742.00" y1="512.31" x2="731.00" y2="512.31" stroke="#000" stroke-width="1.5"/>
<line x1="91.00" y1="505.18" x2="102.00" y2="505.18" stroke="#000" stroke-width="1.5"/>
<line x1="742.00" y1="505.18" x2="731.00" y2="505.18" stroke="#000" stroke-width="1.5"/>
<line x1="91.00" y1="498.80" x2="113.00" y2="498.80" stroke="#000" stroke-width="1.5"/>
<line x1="742.00" y1="498.80" x2="720.00" y2="498.80" stroke="#000" stroke-width="1.5"/>
<line x1="91.00" y1="456.84" x2="102.00" y2="456.84" stroke="#000" stroke-width="1.5"/>
<line x1="742.00" y1="456.84" x2="731.00" y2="456.84" stroke="#000" stroke-width="1.5"/>
<line x1="91.00" y1="432.29" x2="102.00" y2="432.29" stroke="#000" stroke-width="1.5"/>
<line x1="742.00" y1="432.29" x2="731.00" y2="432.29" stroke="#000" stroke-width="1.5"/>
<line x1="91.00" y1="414.87" x2="102.00" y2="414.87" stroke="#000" stroke-width="1.5"/>
<line x1="742.00" y1="414.87" x2="731.00" y2="414.87" stroke="#000" stroke-width="1.5"/>
<line x1="91.00" y1="401.36" x2="102.00" y2="401.36" stroke="#000" stroke-width="1.5"/>
<line x1="742.00" y1="401.36" x2="731.00" y2="401.36" stroke="#000" stroke-width="1.5"/>
<line x1="91.00" y1="390.33" x2="102.00" y2="390.33" stroke="#000" stroke-width="1.5"/>
<line x1="742.00" y1="390.33" x2="731.00" y2="390.33" stroke="#000" stroke-width="1.5"/>
<line x1="91.00" y1="380.99" x2="102.00" y2="380.99" stroke="#000" stroke-width="1.5"/>
<line x1="742.00" y1="380.99" x2="731.00" y2="380.99" stroke="#000" stroke-width="1.5"/>
<line x1="91.00" y1="372.91" x2="102.00" y2="372.91" stroke="#000" stroke-width="1.5"/>
<line x1="742.00" y1="372.91" x2="731.00" y2="372.91" stroke="#000" stroke-width="1.5"/>
<line x1="91.00" y1="365.78" x2="102.00" y2="365.78" stroke="#000" stroke-width="1.5"/>
<line x1="742.00" y1="365.78" x2="731.00" y2="365.78" stroke="#000" stroke-width="1.5"/>
<line x1="91.00" y1="359.40" x2="113.00" y2="359.40" stroke="#000" stroke-width="1.5"/>
<line x1="742.00" y1="359.40" x2="720.00" y2="359.40" stroke="#000" stroke-width="1.5"/>
<line x1="91.00" y1="317.44" x2="102.00" y2="317.44" stroke="#000" stroke-width="1.5"/>
<line x1="742.00" y1="317.44" x2="731.00" y2="317.44" stroke="#000" stroke-width="1.5"/>
<line x1="91.00" y1="292.89" x2="102.00" y2="292.89" stroke="#000" stroke-width="1.5"/>
<line x1="742.00" y1="292.89" x2="731.00" y2="292.89" stroke="#000" stroke-width="1.5"/>
<line x1="91.00" y1="275.47" x2="102.00" y2="275.47" stroke="#000" stroke-width="1.5"/>
<line x1="742.00" y1="275.47" x2="731.00" y2="275.47" stroke="#000" stroke-width="1.5"/>
<line x1="91.00" y1="261.96" x2="102.00" y2="261.96" stroke="#000" stroke-width="1.5"/>
<line x1="742.00" y1="261.96" x2="731.00" y2="261.96" stroke="#000" stroke-width="1.5"/>
<line x1="91.00" y1="250.93" x2="102.00" y2="250.93" stroke="#000" stroke-width="1.5"/>
<line x1="742.00" y1="250.93" x2="731.00" y2="250.93" stroke="#000" stroke-width="1.5"/>
<line x1="91.00" y1="241.59" x2="102.00" y2="241.59" stroke="#000" stroke-width="1.5"/>
<line x1="742.00" y1="241.59" x2="731.00" y2="241.59" stroke="#000" stroke-width="1.5"/>
<line x1="91.00" y1="233.51" x2="102.00" y2="233.51" stroke="#000" stroke-width="1.5"/>
<line x1="742.00" y1="233.51" x2="731.00" y2="233.51" stroke="#000" stroke-width="1.5"/>
<line x1="91.00" y1="226.38" x2="102.00" y2="226.38" stroke="#000" stroke-width="1.5"/>
<line x1="742.00" y1="226.38" x2="731.00" y2="226.38" stroke="#000" stroke-width="1.5"/>
<line x1="91.00" y1="220.00" x2="113.00" y2="220.00" stroke="#000" stroke-width="1.5"/>
<line x1="742.00" y1="220.00" x2="720.00" y2="220.00" stroke="#000" stroke-width="1.5"/>
<line x1="91.00" y1="178.04" x2="102.00" y2="178.04" stroke="#000" stroke-width="1.5"/>
<line x1="742.00" y1="178.04" x2="731.00" y2="178.04" stroke="#000" stroke-width="1.5"/>
<line x1="91.00" y1="153.49" x2="102.00" y2="153.49" stroke="#000" stroke-width="1.5"/>
<line x1="742.00" y1="153.49" x2="731.00" y2="153.49" stroke="#000" stroke-width="1.5"/>
<line x1="91.00" y1="136.07" x2="102.00" y2="136.07" stroke="#000" stroke-width="1.5"/>
<line x1="742.00" y1="136.07" x2="731.00" y2="136.07" stroke="#000" stroke-width="1.5"/>
<line x1="91.00" y1="122.56" x2="102.00" y2="122.56" stroke="#000" stroke-width="1.5"/>
<line x1="742.00" y1="122.56" x2="731.00" y2="122.56" stroke="#000" stroke-width="1.5"/>
<line x1="91.00" y1="111.53" x2="102.00" y2="111.53" stroke="#000" stroke-width="1.5"/>
<line x1="742.00" y1="111.53" x2="731.00" y2="111.53" stroke="#000" stroke-width="1.5"/>
<line x1="91.00" y1="102.19" x2="102.00" y2="102.19" stroke="#000" stroke-width="1.5"/>
<line x1="742.00" y1="102.19" x2="731.00" y2="102.19" stroke="#000" stroke-width="1.5"/>
<line x1="91.00" y1="94.11" x2="102.00" y2="94.11" stroke="#000" stroke-width="1.5"/>
<line x1="742.00" y1="94.11" x2="731.00" y2="94.11" stroke="#000" stroke-width="1.5"/>
<line x1="91.00" y1="86.98" x2="102.00" y2="86.98" stroke="#000" stroke-width="1.5"/>
<line x1="742.00" y1="86.98" x2="731.00" y2="86.98" stroke="#000" stroke-width="1.5"/>
<line x1="91.00" y1="80.60" x2="113.00" y2="80.60" stroke="#000" stroke-width="1.5"/>
<line x1="742.00" y1="80.60" x2="720.00" y2="80.60" stroke="#000" stroke-width="1.5"/>
<line x1="91.00" y1="38.64" x2="102.00" y2="38.64" stroke="#000" stroke-width="1.5"/>
<line x1="742.00" y1="38.64" x2="731.00" y2="38.64" stroke="#000" stroke-width="1.5"/>
<line x1="91.00" y1="916.41" x2="106.00" y2="916.41" stroke="#000" stroke-width="1.5"/>
<line x1="742.00" y1="916.41" x2="727.00" y2="916.41" stroke="#000" stroke-width="1.5"/>
<line x1="91.00" y1="884.58" x2="101.00" y2="884.58" stroke="#000" stroke-width="1.5"/>
<line x1="742.00" y1="884.58" x2="732.00" y2="884.58" stroke="#000" stroke-width="1.5"/>
<line x1="91.00" y1="857.67" x2="101.00" y2="857.67" stroke="#000" stroke-width="1.5"/>
<line x1="742.00" y1="857.67" x2="732.00" y2="857.67" stroke="#000" stroke-width="1.5"/>
<line x1="91.00" y1="834.36" x2="101.00" y2="834.36" stroke="#000" stroke-width="1.5"/>
<line x1="742.00" y1="834.36" x2="732.00" y2="834.36" stroke="#000" stroke-width="1.5"/>
<line x1="91.00" y1="813.79" x2="101.00" y2="813.79" stroke="#000" stroke-width="1.5"/>
<line x1="742.00" y1="813.79" x2="732.00" y2="813.79" stroke="#000" stroke-width="1.5"/>
<line x1="91.00" y1="795.40" x2="106.00" y2="795.40" stroke="#000" stroke-width="1.5"/>
<line x1="742.00" y1="795.40" x2="727.00" y2="795.40" stroke="#000" stroke-width="1.5"/>
<line x1="91.00" y1="778.76" x2="101.00" y2="778.76" stroke="#000" stroke-width="1.5"/>
<line x1="742.00" y1="778.76" x2="732.00" y2="778.76" stroke="#000" stroke-width="1.5"/>
<line x1="91.00" y1="763.57" x2="101.00" y2="763.57" stroke="#000" stroke-width="1.5"/>
<line x1="742.00" y1="763.57" x2="732.00" y2="763.57" stroke="#000" stroke-width="1.5"/>
<line x1="91.00" y1="749.59" x2="101.00" y2="749.59" stroke="#000" stroke-width="1.5"/>
<line x1="742.00" y1="749.59" x2="732.00" y2="749.59" stroke="#000" stroke-width="1.5"/>
<line x1="91.00" y1="736.66" x2="101.00" y2="736.66" stroke="#000" stroke-width="1.5"/>
<line x1="742.00" y1="736.66" x2="732.00" y2="736.66" stroke="#000" stroke-width="1.5"/>
<line x1="91.00" y1="724.61" x2="106.00" y2="724.61" stroke="#000" stroke-width="1.5"/>
<line x1="742.00" y1="724.61" x2="727.00" y2="724.61" stroke="#000" stroke-width="1.5"/>
<line x1="91.00" y1="713.34" x2="101.00" y2="713.34" stroke="#000" stroke-width="1.5"/>
<line x1="742.00" y1="713.34" x2="732.00" y2="713.34" stroke="#000" stroke-width="1.5"/>
<line x1="91.00" y1="702.76" x2="101.00" y2="702.76" stroke="#000" stroke-width="1.5"/>
<line x1="742.00" y1="702.76" x2="732.00" y2="702.76" stroke="#000" stroke-width="1.5"/>
<line x1="91.00" y1="692.78" x2="101.00" y2="692.78" stroke="#000" stroke-width="1.5"/>
<line x1="742.00" y1="692.78" x2="732.00" y2="692.78" stroke="#000" stroke-width="1.5"/>
<line x1="91.00" y1="683.34" x2="101.00" y2="683.34" stroke="#000" stroke-width="1.5"/>
<line x1="742.00" y1="683.34" x2="732.00" y2="683.34" stroke="#000" stroke-width="1.5"/>
<line x1="91.00" y1="674.39" x2="106.00" y2="674.39" stroke="#000" stroke-width="1.5"/>
<line x1="742.00" y1="674.39" x2="727.00" y2="674.39" stroke="#000" stroke-width="1.5"/>
<line x1="91.00" y1="665.87" x2="101.00" y2="665.87" stroke="#000" stroke-width="1.5"/>
<line x1="742.00" y1="665.87" x2="732.00" y2="665.87" stroke="#000" stroke-width="1.5"/>
<line x1="91.00" y1="657.75" x2="101.00" y2="657.75" stroke="#000" stroke-width="1.5"/>
<line x1="742.00" y1="657.75" x2="732.00" y2="657.75" stroke="#000" stroke-width="1.5"/>
<line x1="91.00" y1="649.99" x2="101.00" y2="649.99" stroke="#000" stroke-width="1.5"/>
<line x1="742.00" y1="649.99" x2="732.00" y2="649.99" stroke="#000" stroke-width="1.5"/>
<line x1="91.00" y1="642.56" x2="101.00" y2="642.56" stroke="#000" stroke-width="1.5"/>
<line x1="742.00" y1="642.56" x2="732.00" y2="642.56" stroke="#000" stroke-width="1.5"/>
<line x1="91.00" y1="635.43" x2="101.00" y2="635.43" stroke="#000" stroke-width="1.5"/>
<line x1="742.00" y1="635.43" x2="732.00" y2="635.43" stroke="#000" stroke-width="1.5"/>
<rect x="91.0" y="35.0" width="651.0" height="920.8" fill="none" stroke="#000" stroke-width="2"/>
<line x1="91.0" y1="634.5" x2="742.0" y2="634.5" stroke="#000" stroke-width="2"/>
<line x1="20.8" y1="141.6" x2="20.8" y2="252.8" stroke="#000" stroke-width="1.8"/>
<line x1="21.1" y1="34.7" x2="21.1" y2="127.6" stroke="#000" stroke-width="1.8"/>
<text transform="translate(102.6,29.1) scale(1,1.08)" font-size="24.3" fill="#000" text-anchor="start">13000 GeV pp</text>
<text transform="translate(730.5,29.0) scale(1,1.08)" font-size="24.3" fill="#000" text-anchor="end">Jets</text>
<text transform="translate(73.1,87.0) scale(1,1.08)" font-size="24.43" fill="#000" text-anchor="start">CMS, 13 TeV, AK4 jets, forward dijet region, 150 &lt;p</text>
<text transform="translate(619.6,71.0) scale(1,1.08)" font-size="15.3" fill="#000" text-anchor="start">{jet</text>
<text transform="translate(618.5,99.5) scale(1,1.0)" font-size="16.5" fill="#000" text-anchor="start">T</text>
<text transform="translate(641.0,87.0) scale(1,1.08)" font-size="24.3" fill="#000" text-anchor="start">}&lt; 186 GeV</text>
<text transform="translate(759.8,254.2) rotate(-90) scale(1,1.08)" font-size="18.85" fill="#666666" text-anchor="start">Rivet 4.1.0, ≥ 100k events</text>
<text transform="translate(761.5,629.5) rotate(-90) scale(1,1.08)" font-size="19" fill="#666666" text-anchor="start">mcplots.cern.ch [arXiv:2401.10621]</text>
<text transform="translate(333.5,604.2) scale(1,1.08)" font-size="15.8" fill="#999999" text-anchor="start">(CMS_2021_I1920187)</text>
<text transform="translate(80,229.0) scale(1,1.08)" font-size="22" fill="#000" text-anchor="end">10</text>
<text transform="translate(83.2,368.0) scale(1,1.08)" font-size="22" fill="#000" text-anchor="end">1</text>
<text transform="translate(65.5,509.8) scale(1,1.08)" font-size="22" fill="#000" text-anchor="end">10</text>
<text transform="translate(65.0,501.8) scale(1,1.08)" font-size="14.5" fill="#000" text-anchor="start">−1</text>
<text transform="translate(70.5,92.6) scale(1,1.08)" font-size="22" fill="#000" text-anchor="end">10</text>
<text transform="translate(71.3,82.6) scale(1,1.08)" font-size="13.5" fill="#000" text-anchor="start">2</text>
<text transform="translate(77.0,682.9) scale(1,1.08)" font-size="23" fill="#000" text-anchor="end">2</text>
<text transform="translate(77.6,804.8) scale(1,1.08)" font-size="23" fill="#000" text-anchor="end">1</text>
<text transform="translate(76.5,925.5) scale(1,1.08)" font-size="23" fill="#000" text-anchor="end">0.5</text>
<text transform="translate(747.6,682.9) scale(1,1.08)" font-size="23" fill="#000" text-anchor="start">2</text>
<text transform="translate(747.6,804.8) scale(1,1.08)" font-size="23" fill="#000" text-anchor="start">1</text>
<text transform="translate(747.6,925.5) scale(1,1.08)" font-size="23" fill="#000" text-anchor="start">0.5</text>
<text transform="translate(103.5,978.2) scale(1,1.08)" font-size="23" fill="#000" text-anchor="middle">0</text>
<text transform="translate(417.5,978.4) scale(1,1.08)" font-size="23" fill="#000" text-anchor="middle">0.5</text>
<text transform="translate(732,977.8) scale(1,1.08)" font-size="23" fill="#000" text-anchor="middle">1</text>
<text transform="translate(743.5,1009.3) scale(1,1.08)" font-size="25" fill="#000" text-anchor="end">thrust</text>
<text transform="translate(36.2,846.3) rotate(-90) scale(1,1.08)" font-size="17.95" fill="#000" text-anchor="start">Ratio to CMS</text>
<text transform="translate(27.3,266.4) rotate(-90) scale(1,1.0)" font-size="24" fill="#000" text-anchor="start">#</text>
<text transform="translate(17.8,196.4) rotate(-90) scale(1,1.08)" font-size="24" fill="#000" text-anchor="middle">1</text>
<text transform="translate(42.4,246.3) rotate(-90) scale(1,1.08)" font-size="24" fill="#000" text-anchor="start">d N /</text>
<text transform="translate(42.4,182.5) rotate(-90) scale(1,1.08)" font-size="24" fill="#000" text-anchor="start">d p</text>
<text transform="translate(55.7,147.2) rotate(-90) scale(1,1.08)" font-size="14" fill="#000" text-anchor="middle">T</text>
<text transform="translate(27.5,141.0) rotate(-90) scale(1,1.0)" font-size="24" fill="#000" text-anchor="start">#</text>
<text transform="translate(17.0,96.3) rotate(-90) scale(1,1.08)" font-size="24" fill="#000" text-anchor="start">d</text>
<text transform="translate(5.8,83.5) rotate(-90) scale(1,1.08)" font-size="13" fill="#000" text-anchor="start">2</text>
<text transform="translate(17.0,75.0) rotate(-90) scale(1,1.08)" font-size="24" fill="#000" text-anchor="start">N</text>
<text transform="translate(43.4,121.3) rotate(-90) scale(1,1.08)" font-size="24" fill="#000" text-anchor="start">d p</text>
<text transform="translate(56.8,84.4) rotate(-90) scale(1,1.08)" font-size="14" fill="#000" text-anchor="middle">T</text>
<text transform="translate(43.4,65.3) rotate(-90) scale(1,1.08)" font-size="24" fill="#000" text-anchor="start">d</text>
<text transform="translate(43.4,41.75) rotate(-90) scale(1.22,1.08)" font-size="24" fill="#000" text-anchor="middle">λ</text>
<text transform="translate(186.7,402.40000000000003) scale(1,1.08)" font-size="19" fill="#000" text-anchor="start">CMS</text>
<text transform="translate(186.7,428.6) scale(1,1.08)" font-size="19" fill="#000" text-anchor="start">Pythia 6.428 359</text>
<text transform="translate(186.7,454.1) scale(1,1.08)" font-size="19" fill="#000" text-anchor="start">Pythia 6.428 370</text>
<text transform="translate(186.7,480.3) scale(1,1.08)" font-size="19" fill="#000" text-anchor="start">Pythia 6.428 a</text>
<text transform="translate(186.7,506.3) scale(1,1.08)" font-size="19" fill="#000" text-anchor="start">Pythia 6.428 dw</text>
<text transform="translate(186.7,532.1999999999999) scale(1,1.08)" font-size="19" fill="#000" text-anchor="start">Pythia 6.428 p0</text>
<text transform="translate(186.7,558.3) scale(1,1.08)" font-size="19" fill="#000" text-anchor="start">Pythia 6.428 pro-q2o</text>
</svg>
</body></html>
